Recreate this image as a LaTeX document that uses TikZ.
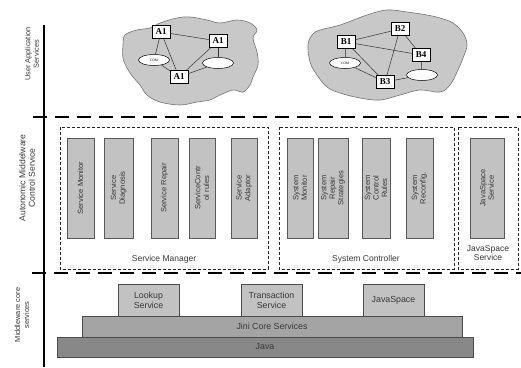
\documentclass[tikz,border=0pt]{standalone}
\usepackage{fontspec}
\setmainfont{Liberation Sans}
\newfontfamily\serifb{Liberation Serif}
\usetikzlibrary{shapes.geometric}
\definecolor{txt}{HTML}{383838}
\definecolor{barfill}{HTML}{C2C2C2}
\definecolor{cloudfill}{HTML}{C8C8C8}
\definecolor{jini}{HTML}{A4A4A4}
\definecolor{javac}{HTML}{888888}
\begin{document}
\begin{tikzpicture}[x=1pt,y=-1pt,
  bar/.style={rotate=90, draw=black!65, fill=barfill, line width=0.6pt, inner sep=0pt, minimum width=100pt, text=txt, align=center, font=\fontsize{7.6}{8.6}\selectfont},
  grp/.style={draw=black!85, dashed, dash pattern=on 3pt off 2pt, line width=0.8pt},
  grplabel/.style={text=txt, align=center, font=\fontsize{8.5}{9.5}\selectfont},
  layer/.style={draw=black!70, line width=0.6pt, inner sep=0pt, text=txt, align=center, font=\fontsize{8.8}{10}\selectfont},
  sep/.style={line width=2.6pt, dash pattern=on 14pt off 8pt},
  side/.style={rotate=90, text=txt, align=center},
  cloud/.style={draw=black!55, fill=cloudfill, line width=0.6pt},
  comp/.style={draw=black, fill=white, line width=0.6pt, minimum width=18pt, minimum height=13pt, inner sep=0pt, font=\serifb\bfseries\fontsize{9}{9}\selectfont},
  oval/.style={ellipse, draw=black, fill=white, line width=0.5pt, minimum width=31pt, minimum height=11pt, inner sep=0pt, font=\serifb\fontsize{3.5}{4}\selectfont},
  link/.style={draw=black!80, line width=0.5pt}
]
\useasboundingbox (0,0) rectangle (521,367);

% axis and separators
\coordinate (axtop) at (44,25);
\coordinate (axbot) at (44,367);
\draw[line width=1.2pt] (axtop) -- (axbot);
\coordinate (s1a) at (33,117);
\coordinate (s1b) at (521,117);
\coordinate (s2a) at (32,273);
\coordinate (s2b) at (521,273);
\draw[sep] (s1a) -- (s1b);
\draw[sep] (s2a) -- (s2b);

% side labels
\node[side, font=\fontsize{7.4}{8.6}\selectfont] (lua) at (32,54) {User Application\\Services};
\node[side, font=\fontsize{8.6}{9.5}\selectfont] (lam) at (27,178) {Autonomic Middelware\\Control Service};
\node[side, font=\fontsize{7.4}{9}\selectfont] (lmc) at (22,315) {Middleware core\\services};

% clouds
\draw[cloud] plot[smooth cycle, tension=0.6] coordinates {(150,28) (160,23) (177,18) (190,17) (207,20) (220,23) (237,20) (250,23) (257,30) (253,38) (257,52) (258,65) (253,77) (250,85) (243,92) (233,90) (220,95) (210,100) (197,102) (180,105) (160,102) (147,95) (140,85) (133,77) (127,68) (123,58) (123,45) (125,35) (137,30)};
\draw[cloud] plot[smooth cycle, tension=0.6] coordinates {(320,30) (340,25) (367,15) (387,10) (407,12) (427,15) (440,18) (453,23) (463,33) (467,45) (463,58) (457,72) (450,85) (440,92) (420,90) (400,95) (380,100) (360,98) (340,93) (327,87) (317,75) (310,62) (308,45) (312,35)};

% cloud A
\node[comp] (a1) at (161,32) {A1};
\node[comp] (a2) at (218,41) {A1};
\node[comp] (a3) at (179,77) {A1};
\node[oval] (acom) at (154,60) {COM};
\node[oval] (aell) at (218,63) {};
\draw[link] (a1) -- (a2);
\draw[link] (a1) -- (acom);
\draw[link] (a1) -- (a3);
\draw[link] (a2) -- (a3);
\draw[link] (a2) -- (aell);
\draw[link] (acom) -- (a3);
\draw[link] (a3) -- (aell);

% cloud B
\node[comp] (b1) at (346,42) {B1};
\node[comp] (b2) at (400,29) {B2};
\node[comp] (b4) at (421,55) {B4};
\node[comp] (b3) at (385,82) {B3};
\node[oval] (bcom) at (345,63) {COM};
\node[oval] (bell) at (422,75) {};
\draw[link] (b1) -- (b2);
\draw[link] (b1) -- (b4);
\draw[link] (b1) -- (b3);
\draw[link] (b1) -- (bcom);
\draw[link] (b2) -- (b4);
\draw[link] (b2) -- (b3);
\draw[link] (bcom) -- (b3);
\draw[link] (b3) -- (bell);
\draw[link] (b4) -- (bell);

% group boxes
\draw[grp] (60,127) rectangle (268,269);
\draw[grp] (279,127) rectangle (454,269);
\draw[grp] (458,127) rectangle (518,269);
\node[grplabel] (gsm) at (164,259) {Service Manager};
\node[grplabel] (gsc) at (366,259) {System Controller};
\node[grplabel] (gjs) at (488,253) {JavaSpace\\Service};

% service manager bars
\node[bar, minimum height=27pt] (sm1) at (80.5,188) {Service Monitor};
\node[bar, minimum height=29pt] (sm2) at (118.5,188) {Service\\Diagnosis};
\node[bar, minimum height=27pt] (sm3) at (164.5,188) {Service Repair};
\node[bar, minimum height=26pt] (sm4) at (202,188) {ServiceContr\\ol rules};
\node[bar, minimum height=26pt] (sm5) at (244,188) {Service\\Adaptor};

% system controller bars
\node[bar, minimum height=26pt] (sc1) at (300,188) {System\\Monitor};
\node[bar, minimum height=30pt] (sc2) at (333,188) {System\\Repair\\Strategies};
\node[bar, minimum height=28pt] (sc3) at (376,188) {System\\Control\\Rules};
\node[bar, minimum height=27pt] (sc4) at (419.5,188) {System\\Reconfig.};

% javaspace bar
\node[bar, minimum height=34pt] (js1) at (487,188) {JavaSpace\\Service};

% core layers
\node[layer, fill=barfill, minimum width=61pt, minimum height=32pt] (lookup) at (148.5,300) {Lookup\\Service};
\node[layer, fill=barfill, minimum width=61pt, minimum height=32pt] (trans) at (271.5,300) {Transaction\\Service};
\node[layer, fill=barfill, minimum width=61pt, minimum height=32pt] (jspace) at (393.5,300) {JavaSpace};
\node[layer, fill=jini, minimum width=380pt, minimum height=21pt] (jini) at (272,326.5) {Jini Core Services};
\node[layer, fill=javac, minimum width=416pt, minimum height=20pt] (java) at (265,347) {Java};
\end{tikzpicture}
\end{document}
